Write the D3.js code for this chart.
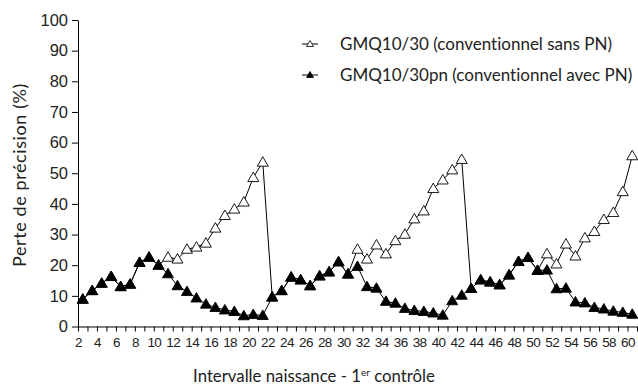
<!DOCTYPE html>
<html><head><meta charset="utf-8">
<script src="https://cdn.jsdelivr.net/npm/d3@7"></script>
<style>
body{margin:0;background:#fff;}
svg{display:block;font-family:Lato, "Open Sans", sans-serif;font-variant-ligatures:none;}
</style></head>
<body>
<svg id="c" width="638" height="386"></svg>
<script>
const categories = d3.range(2, 61);
const sansPN = [8.9,11.7,14.1,16.3,13.0,13.8,20.9,22.6,20.0,22.6,22.0,25.2,25.9,27.2,32.1,36.2,38.3,40.6,48.6,53.6,
  9.6,11.7,16.1,15.2,13.3,16.5,17.8,21.1,17.1,25.2,22.0,26.6,23.7,28.0,30.1,35.1,37.7,45.0,47.8,51.1,54.5,
  12.4,15.2,14.5,13.6,16.8,21.2,22.5,18.3,23.7,20.4,26.9,23.0,28.9,31.0,34.9,37.2,44.0,55.7];
const avecPN = [8.9,11.7,14.1,16.3,13.0,13.8,20.9,22.6,20.0,17.2,13.3,11.4,9.3,7.3,6.2,5.4,4.9,3.5,3.9,3.6,
  9.6,11.7,16.1,15.2,13.3,16.5,17.8,21.1,17.1,19.6,13.0,12.5,8.2,7.6,5.9,5.2,4.9,4.4,3.7,8.4,10.2,
  12.4,15.2,14.5,13.6,16.8,21.2,22.5,18.3,18.4,12.3,12.5,8.0,7.7,6.2,5.7,5.0,4.6,4.0];
const xTickLabels = d3.range(2, 61, 2);
const yTickLabels = [0,10,20,30,40,50,60,70,80,90,100];
const seriesNames = ["GMQ10/30 (conventionnel sans PN)", "GMQ10/30pn (conventionnel avec PN)"];

const svg = d3.select("#c");
const x = d3.scaleLinear().domain([2, 61]).range([78, 637]);
const y = d3.scaleLinear().domain([0, 100]).range([326.5, 20]);

// axes
const xAxis = d3.axisBottom(x).tickValues(d3.range(2, 62)).tickSize(5).tickSizeOuter(0)
  .tickFormat(d => xTickLabels.includes(d) ? d : "");
const gx = svg.append("g").attr("transform", "translate(0,326.5)").call(xAxis);
gx.selectAll("text").attr("font-size", 13.5).attr("dy", "0.95em").attr("letter-spacing", "-0.6").attr("fill", "#222");
gx.selectAll("line,path").attr("stroke", "#000");

const yAxis = d3.axisLeft(y).tickValues(yTickLabels).tickSize(6).tickSizeOuter(0).tickPadding(4);
const gy = svg.append("g").attr("transform", "translate(78,0)").call(yAxis);
gy.selectAll("text").attr("font-size", 16.5).attr("fill", "#222");
gy.selectAll("line,path").attr("stroke", "#000");

// axis titles
svg.append("text").attr("transform", "translate(26,175) rotate(-90)").attr("text-anchor", "middle")
  .attr("font-size", 18).attr("letter-spacing", "0.6").attr("fill", "#222").text("Perte de précision (%)");
const xt = svg.append("text").attr("x", 314).attr("y", 382).attr("text-anchor", "middle")
  .attr("font-size", 16.8).attr("fill", "#222");
xt.append("tspan").text("Intervalle naissance - 1");
xt.append("tspan").attr("font-size", 10).attr("dy", -6).text("er");
xt.append("tspan").attr("dy", 6).text(" contrôle");

const tri = "M0,-5.5L5.5,4L-5.5,4Z";
const line = d3.line().x((d, i) => x(categories[i] + 0.5)).y(d => y(d));

function drawSeries(vals, fill) {
  svg.append("path").datum(vals).attr("d", line).attr("fill", "none").attr("stroke", "#000").attr("stroke-width", 1);
  svg.append("g").selectAll("path").data(vals).join("path")
    .attr("d", tri)
    .attr("transform", (d, i) => `translate(${x(categories[i] + 0.5)},${y(d)})`)
    .attr("fill", fill).attr("stroke", "#000").attr("stroke-width", 0.9);
}
drawSeries(sansPN, "#fff");
drawSeries(avecPN, "#000");

// legend
const legend = [{name: seriesNames[0], fill: "#fff", y: 44}, {name: seriesNames[1], fill: "#000", y: 75}];
const lg = svg.append("g").selectAll("g").data(legend).join("g").attr("transform", d => `translate(0,${d.y})`);
lg.append("line").attr("x1", 302).attr("x2", 318).attr("stroke", "#000");
lg.append("path").attr("d", "M0,-3.5L3.5,2.5L-3.5,2.5Z").attr("transform", "translate(310,0)")
  .attr("fill", d => d.fill).attr("stroke", "#000").attr("stroke-width", 0.8);
lg.append("text").attr("x", 340).attr("y", 6).attr("font-size", 17).attr("fill", "#222").text(d => d.name);
</script>
</body></html>
